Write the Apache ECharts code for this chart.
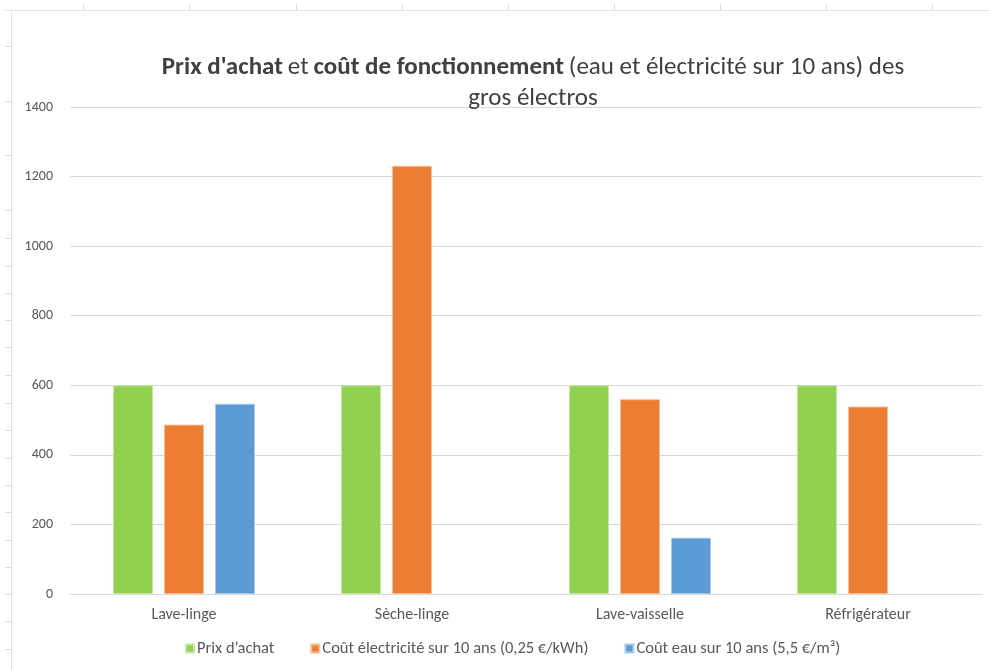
<!DOCTYPE html>
<html><head><meta charset="utf-8">
<script src="https://cdn.jsdelivr.net/npm/echarts@6/dist/echarts.min.js"></script>
<style>html,body{margin:0;padding:0;background:#fff;}#c{width:990px;height:670px;}</style>
</head><body><div id="c"></div>
<script>
const categories = ['Lave-linge', 'Sèche-linge', 'Lave-vaisselle', 'Réfrigérateur'];
const seriesNames = ['Prix d’achat', 'Coût électricité sur 10 ans (0,25 €/kWh)', 'Coût eau sur 10 ans (5,5 €/m³)'];
const prixAchat = [600, 600, 600, 600];
const coutElec = [487, 1231, 560, 539];
const coutEau = [547, null, 162, null];
const yTicks = { min: 0, max: 1400, interval: 200 };
const colors = ['#92D050', '#ED7D31', '#5B9BD5'];
const borders = ['#C4E6A3', '#F6BC94', '#A9CBEA'];

const FONT = 'Carlito, Lato, "Open Sans", sans-serif';
const chart = echarts.init(document.getElementById('c'));

const topTicks = [83, 189, 296, 402, 508, 614, 720, 826, 932];
const leftTicks = [46, 101, 155, 210, 238, 266, 293, 320, 347, 375, 403, 430, 458, 485, 512, 540, 567, 594, 621, 649];
const deco = [
  { type: 'line', shape: { x1: 5, y1: 10.5, x2: 990, y2: 10.5 }, style: { stroke: '#E3E3E3', lineWidth: 1 } },
  { type: 'line', shape: { x1: 11.5, y1: 10, x2: 11.5, y2: 670 }, style: { stroke: '#E3E3E3', lineWidth: 1 } }
];
topTicks.forEach(x => deco.push({ type: 'line', shape: { x1: x + 0.5, y1: 4, x2: x + 0.5, y2: 10 }, style: { stroke: '#DADADA', lineWidth: 1 } }));
leftTicks.forEach(y => deco.push({ type: 'line', shape: { x1: 5, y1: y + 0.5, x2: 11, y2: y + 0.5 }, style: { stroke: '#DADADA', lineWidth: 1 } }));

const data = [prixAchat, coutElec, coutEau];
chart.setOption({
  animation: false,
  backgroundColor: '#fff',
  title: {
    left: 528, top: 47, textAlign: 'center',
    text: '{b|Prix d\'achat} {n|et} {b|coût de fonctionnement} {n|(eau et électricité sur 10 ans) des}\n{n|gros électros}',
    textStyle: {
      fontWeight: 'normal',
      rich: {
        b: { fontFamily: FONT, fontSize: 25, fontWeight: 'bold', color: '#404040', lineHeight: 31 },
        n: { fontFamily: FONT, fontSize: 25, fontWeight: 'normal', color: '#404040', lineHeight: 31 }
      }
    }
  },
  graphic: deco,
  legend: {
    left: 180, bottom: 8, itemWidth: 8, itemHeight: 8, itemGap: 36,
    icon: 'rect',
    textStyle: { fontFamily: FONT, fontSize: 16.5, color: '#595959', padding: [0, 0, 0, -2] },
    data: seriesNames
  },
  grid: { left: 70, right: 8, top: 107, bottom: 76 },
  xAxis: {
    type: 'category', data: categories,
    axisLine: { lineStyle: { color: '#D9D9D9', width: 1 } },
    axisTick: { show: false },
    axisLabel: { color: '#595959', fontFamily: FONT, fontSize: 16, margin: 13 }
  },
  yAxis: {
    type: 'value', min: yTicks.min, max: yTicks.max, interval: yTicks.interval,
    axisLine: { show: false }, axisTick: { show: false },
    splitLine: { lineStyle: { color: '#D9D9D9', width: 1 } },
    axisLabel: { color: '#595959', fontFamily: FONT, fontSize: 14, margin: 17, formatter: v => String(v) }
  },
  series: seriesNames.map((n, i) => ({
    name: n, type: 'bar', data: data[i],
    barWidth: 40, barGap: '27.5%',
    itemStyle: { color: colors[i], borderColor: borders[i], borderWidth: 1 }
  }))
});
</script></body></html>
